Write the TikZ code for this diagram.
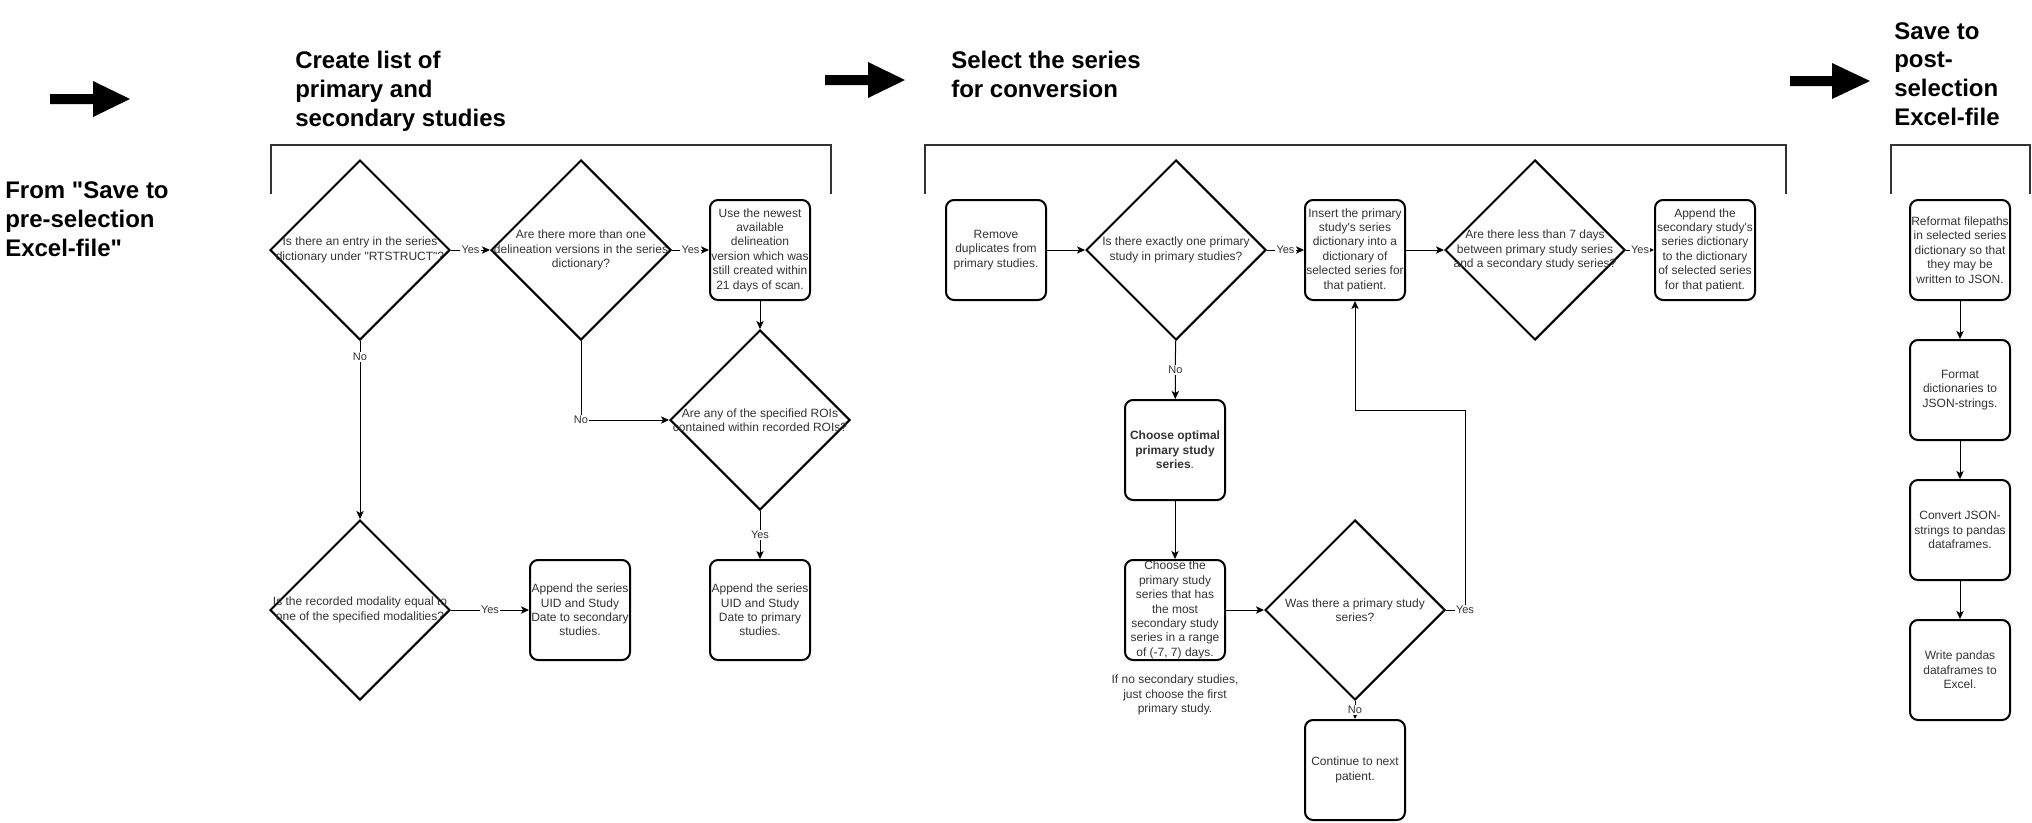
\documentclass[tikz,border=0pt]{standalone}
\usepackage{fontspec}
\setmainfont{Liberation Sans}[Ligatures=TeXOff]
\usetikzlibrary{shapes.geometric, arrows.meta}

\begin{document}
\begin{tikzpicture}[x=0.75pt, y=-0.75pt, line join=miter,
    every node/.style={inner sep=0pt},
    box/.style={draw, line width=1.5pt, rounded corners=6pt, minimum width=75pt, minimum height=75pt, align=center, text=black!80, font=\fontsize{9}{10.8}\selectfont},
    decision/.style={draw, diamond, line width=1.5pt, minimum width=135pt, minimum height=135pt},
    dtext/.style={align=center, text=black!80, font=\fontsize{9}{10.8}\selectfont},
    flow/.style={line width=0.75pt, -{Stealth[length=6pt, width=5.5pt, inset=1.5pt]}},
    lbl/.style={fill=white, inner sep=1pt, text=black!80, font=\fontsize{8.25}{9.9}\selectfont},
    heading/.style={anchor=west, align=left, font=\fontsize{18}{21.6}\selectfont\bfseries},
    bracket/.style={line width=1.5pt, draw=black!80}]
    \useasboundingbox (0,0) rectangle (2032,822);

    % Start
    \node[heading] (from) at (5,219) {From "Save to\\pre-selection\\Excel-file"};
    \fill (50,94) -- (93,94) -- (93,81) -- (130,99) -- (93,117) -- (93,104) -- (50,104) -- cycle;

    % Part 1
    \node[heading] (head1) at (295,91) {Create list of\\primary and\\secondary studies};
    \draw[bracket] (271,194) |- (831,145) -- (831,194);
    \node[decision, label={[dtext]center:{Is there an entry in the series\\dictionary under "RTSTRUCT"?}}] (entry) at (360,250) {};
    \node[decision, label={[dtext]center:{Are there more than one\\delineation versions in the series\\dictionary?}}] (versions) at (581,250) {};
    \node[box] (newest) at (760,250) {Use the newest\\available\\delineation\\version which was\\still created within\\21 days of scan.};
    \node[decision, label={[dtext]center:{Are any of the specified ROIs\\contained within recorded ROIs?}}] (rois) at (760,420) {};
    \node[box] (primary) at (760,610) {Append the series\\UID and Study\\Date to primary\\studies.};
    \node[decision, label={[dtext]center:{Is the recorded modality equal to\\one of the specified modalities?}}] (modality) at (360,610) {};
    \node[box] (secondary) at (580,610) {Append the series\\UID and Study\\Date to secondary\\studies.};
    \draw[flow] (entry) -- node[lbl] {Yes} (versions);
    \draw[flow] (versions) -- node[lbl] {Yes} (newest);
    \draw[flow] (newest) -- (rois);
    \draw[flow] (versions) |- node[lbl, pos=0.5] {No} (rois);
    \draw[flow] (rois) -- node[lbl] {Yes} (primary);
    \draw[flow] (entry) -- node[lbl, pos=0.09] {No} (modality);
    \draw[flow] (modality) -- node[lbl] {Yes} (secondary);

    \fill (825,75) -- (868,75) -- (868,62) -- (905,80) -- (868,98) -- (868,85) -- (825,85) -- cycle;

    % Part 2
    \node[heading] (head2) at (951,74.5) {Select the series\\for conversion};
    \draw[bracket] (925,194) |- (1786,145) -- (1786,194);
    \node[box] (dupes) at (996,250) {Remove\\duplicates from\\primary studies.};
    \node[decision, label={[dtext]center:{Is there exactly one primary\\study in primary studies?}}] (single) at (1176,250) {};
    \node[box] (insert) at (1355,250) {Insert the primary\\study's series\\dictionary into a\\dictionary of\\selected series for\\that patient.};
    \node[decision, label={[dtext]center:{Are there less than 7 days\\between primary study series\\and a secondary study series?}}] (lessdays) at (1535,250) {};
    \node[box] (appendsec) at (1705,250) {Append the\\secondary study's\\series dictionary\\to the dictionary\\of selected series\\for that patient.};
    \node[box] (optimal) at (1175,450) {\textbf{Choose optimal}\\\textbf{primary study}\\\textbf{series}.};
    \node[box] (most) at (1175,610) {Choose the\\primary study\\series that has\\the most\\secondary study\\series in a range\\of (-7, 7) days.};
    \node[dtext] (note) at (1175,695) {If no secondary studies,\\just choose the first\\primary study.};
    \node[decision, label={[dtext]center:{Was there a primary study\\series?}}] (wasthere) at (1355,610) {};
    \node[box] (nextpat) at (1355,770) {Continue to next\\patient.};
    \coordinate (back) at (1465,410);
    \draw[flow] (dupes) -- (single);
    \draw[flow] (single) -- node[lbl] {Yes} (insert);
    \draw[flow] (insert) -- (lessdays);
    \draw[flow] (lessdays) -- node[lbl] {Yes} (appendsec);
    \draw[flow] (single) -- node[lbl] {No} (optimal);
    \draw[flow] (optimal) -- (most);
    \draw[flow] (most) -- (wasthere);
    \draw[flow] (wasthere) -- node[lbl] {No} (nextpat);
    \draw[flow] (wasthere) -| node[lbl, pos=0.5] {Yes} (back) -| (insert);

    \fill (1790,76) -- (1832,76) -- (1832,63) -- (1870,81) -- (1832,99) -- (1832,86) -- (1790,86) -- cycle;

    % Part 3
    \node[heading] (head3) at (1894,74) {Save to\\post-\\selection\\Excel-file};
    \draw[bracket] (1891,194) |- (2030,145) -- (2030,194);
    \node[box] (reformat) at (1960,250) {Reformat filepaths\\in selected series\\dictionary so that\\they may be\\written to JSON.};
    \node[box] (tojson) at (1960,390) {Format\\dictionaries to\\JSON-strings.};
    \node[box] (topandas) at (1960,530) {Convert JSON-\\strings to pandas\\dataframes.};
    \node[box] (toexcel) at (1960,670) {Write pandas\\dataframes to\\Excel.};
    \draw[flow] (reformat) -- (tojson);
    \draw[flow] (tojson) -- (topandas);
    \draw[flow] (topandas) -- (toexcel);
\end{tikzpicture}
\end{document}
